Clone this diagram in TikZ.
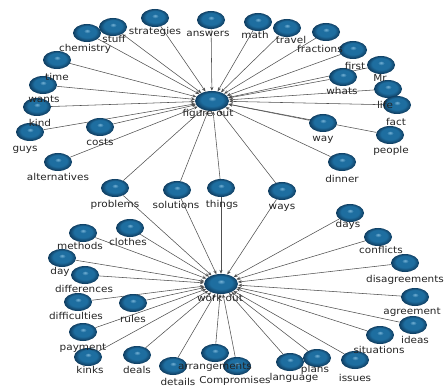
\documentclass[tikz,border=0pt]{standalone}
\usepackage{fontspec}
\setmainfont[FakeStretch=1.1]{DejaVu Sans}
\usetikzlibrary{shapes.geometric,arrows.meta,backgrounds}
\definecolor{ballhi}{RGB}{120,180,215}
\definecolor{ballmid}{RGB}{30,110,160}
\definecolor{balldark}{RGB}{15,60,95}
\definecolor{edgegray}{RGB}{80,80,80}
\definecolor{labelgray}{RGB}{35,35,35}
\pgfdeclareradialshading{blueball}{\pgfpoint{0bp}{7bp}}{color(0bp)=(ballhi); color(6bp)=(ballmid); color(16bp)=(ballmid); color(25bp)=(balldark); color(30bp)=(balldark)}
\tikzset{
  ballnode/.style={ellipse, minimum width=28pt, minimum height=18pt, inner sep=0pt, shading=blueball},
  hubnode/.style={ellipse, minimum width=34pt, minimum height=20pt, inner sep=0pt, shading=blueball},
  lbl/.style={text=labelgray, font=\fontsize{9.5}{10}\selectfont, inner sep=0pt},
  edge/.style={draw=edgegray, line width=0.55pt, -{Stealth[length=4pt,width=3.2pt]}}
}
\begin{document}
\begin{tikzpicture}[x=1pt,y=-1pt]
\useasboundingbox (0,0) rectangle (447,390);
% hubs
\node[hubnode] (F) at (212,101) {};
\node[hubnode] (W) at (221,284) {};
% top cluster balls
\foreach \n/\bx/\by in {chemistry/87/33, stuff/113/27, strategies/155/18, answers/211/20, math/258/22, travel/287/28, fractions/326/32, first/353/50, Mr/381/65, whats/343/77, life/388/89, fact/397/105, people/390/135, way/323/123, dinner/342/162, ways/282/191, things/221/188, solutions/177/190, problems/115/188, alternatives/58/162, costs/100/127, guys/30/132, kind/37/107, wants/43/85, time/57/60}
  {\node[ballnode] (\n) at (\bx,\by) {};}
% bottom cluster balls
\foreach \n/\bx/\by in {methods/83/233, clothes/130/228, day/62/258, differences/85/275, difficulties/78/302, rules/133/303, payment/83/332, kinks/88/357, deals/137/355, arrangements/215/353, details/173/366, Compromises/237/366, language/290/362, plans/317/358, issues/355/360, situations/380/335, ideas/413/325, agreement/415/297, disagreements/405/263, conflicts/378/237, days/350/213}
  {\node[ballnode] (\n) at (\bx,\by) {};}
% edges
\begin{scope}[on background layer]
\foreach \n in {chemistry, stuff, strategies, answers, math, travel, fractions, first, Mr, whats, life, fact, people, way, dinner, ways, things, solutions, problems, alternatives, costs, guys, kind, wants, time}
  {\draw[edge] (\n) -- (F);}
\foreach \n in {problems, solutions, things, ways, methods, clothes, day, differences, difficulties, rules, payment, kinks, deals, arrangements, details, Compromises, language, plans, issues, situations, ideas, agreement, disagreements, conflicts, days}
  {\draw[edge] (\n) -- (W);}
\end{scope}
% labels
\node[lbl] (lF) at (208,114) {figure out};
\node[lbl] (lW) at (220,298) {work out};
\foreach \n/\lx/\ly in {chemistry/85/49, stuff/114/39, strategies/155/32, answers/208/34, math/255/35, travel/291/40, fractions/320/49, first/355/66, Mr/380/78, whats/342/91, life/385/105, fact/396/122, people/391/151, way/323/140, dinner/342/179, ways/282/208, things/222/205, solutions/176/205, problems/115/205, alternatives/58/177, costs/100/142, guys/25/150, kind/40/123, wants/44/99, time/57/77, methods/80/246, clothes/128/242, day/60/272, differences/84/289, difficulties/76/316, rules/133/319, payment/83/348, kinks/90/370, deals/137/370, arrangements/215/367, details/178/382, Compromises/235/381, language/294/378, plans/315/370, issues/355/378, situations/379/350, ideas/415/340, agreement/412/312, disagreements/405/280, conflicts/381/250, days/348/225}
  {\node[lbl] (l\n) at (\lx,\ly) {\n};}
\end{tikzpicture}
\end{document}
